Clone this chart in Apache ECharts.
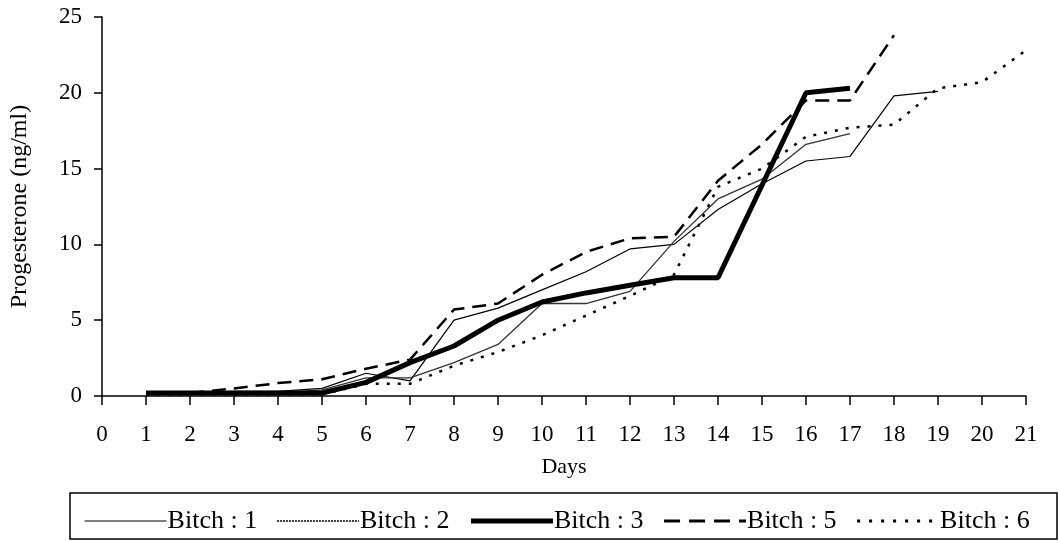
<!DOCTYPE html>
<html>
<head>
<meta charset="utf-8">
<script src="https://cdn.jsdelivr.net/npm/echarts@6/dist/echarts.min.js"></script>
<style>
html,body{margin:0;padding:0;background:#fff;}
#chart{width:1059px;height:541px;}
</style>
</head>
<body>
<div id="chart"></div>
<script>
// ---- data ----
var seriesNames = ['Bitch : 1', 'Bitch : 2', 'Bitch : 3', 'Bitch : 5', 'Bitch : 6'];
var days1 = [1,2,3,4,5,6,7,8,9,10,11,12,13,14,15,16,17,18,19];
var bitch1 = [0.2,0.2,0.3,0.3,0.5,1.5,1.0,5.0,5.8,7.0,8.2,9.7,10.0,12.3,14.0,15.5,15.8,19.8,20.1];
var days2 = [1,2,3,4,5,6,7,8,9,10,11,12,13,14,15,16,17];
var bitch2 = [0.1,0.1,0.2,0.2,0.4,1.2,1.2,2.2,3.4,6.1,6.1,6.9,10.2,13.0,14.3,16.6,17.3];
var days3 = [1,2,3,4,5,6,7,8,9,10,11,12,13,14,15,16,17];
var bitch3 = [0.2,0.2,0.2,0.2,0.2,0.9,2.2,3.3,5.0,6.2,6.8,7.3,7.8,7.8,13.9,20.0,20.3];
var days5 = [1,2,3,4,5,6,7,8,9,10,11,12,13,14,15,16,17,18];
var bitch5 = [0.2,0.2,0.5,0.85,1.1,1.8,2.4,5.7,6.1,8.0,9.5,10.4,10.5,14.2,16.6,19.5,19.5,23.8];
var days6 = [1,2,3,4,5,6,7,8,9,10,11,12,13,14,15,16,17,18,19,20,21];
var bitch6 = [0.1,0.1,0.1,0.1,0.1,0.8,0.8,2.0,2.9,4.0,5.3,6.6,8.0,13.8,15.0,17.1,17.7,17.9,20.3,20.7,22.8];
var xTicks = [0,21,1];
var yTicks = [0,25,5];

function pairs(xs, ys){ return xs.map(function(x,i){ return [x, ys[i]]; }); }

var FONT = '"Liberation Serif", "DejaVu Serif", serif';
var chart = echarts.init(document.getElementById('chart'), null, {renderer:'canvas'});

var styles = [
  {width:1.2, type:'solid', color:'#000'},
  {width:1.3, type:'solid', color:'#333'},
  {width:5, type:'solid', color:'#000'},
  {width:2.5, type:[14,8], color:'#000'},
  {width:2.5, type:[3,8], color:'#000'}
];
var legendStyles = [
  {width:1.2, type:'solid'},
  {width:1.6, type:[2,1]},
  {width:5, type:'solid'},
  {width:3, type:[16,9]},
  {width:3, type:[3,9]}
];
var datasets = [pairs(days1,bitch1), pairs(days2,bitch2), pairs(days3,bitch3), pairs(days5,bitch5), pairs(days6,bitch6)];

var series = seriesNames.map(function(n,i){
  return {
    name:n, type:'line', data:datasets[i], showSymbol:false, symbol:'none',
    lineStyle:{width:styles[i].width, type:styles[i].type, color:styles[i].color},
    itemStyle:{color:styles[i].color},
    animation:false, z: i===2 ? 3 : 2
  };
});

chart.setOption({
  backgroundColor:'#fff',
  animation:false,
  grid:{left:98, right:33, top:17, bottom:145, containLabel:false},
  xAxis:{
    type:'value', min:xTicks[0], max:xTicks[1], interval:xTicks[2],
    name:'Days', nameLocation:'middle', nameGap:60,
    nameTextStyle:{fontFamily:FONT, fontSize:22, color:'#000'},
    axisLine:{lineStyle:{color:'#000', width:1.5}},
    axisTick:{show:true, length:9, lineStyle:{color:'#000', width:1.5}},
    axisLabel:{fontFamily:FONT, fontSize:23, color:'#000', margin:27},
    splitLine:{show:false}
  },
  yAxis:{
    type:'value', min:yTicks[0], max:yTicks[1], interval:yTicks[2],
    name:'Progesterone (ng/ml)', nameLocation:'middle', nameGap:70, nameRotate:90,
    nameTextStyle:{fontFamily:FONT, fontSize:24, color:'#000'},
    axisLine:{show:true, lineStyle:{color:'#000', width:1.5}},
    axisTick:{show:true, length:8, lineStyle:{color:'#000', width:1.5}},
    axisLabel:{fontFamily:FONT, fontSize:23, color:'#000', margin:20},
    splitLine:{show:false}
  },
  legend:{
    left:79, top:503, itemWidth:82, itemHeight:14, itemGap:19,
    data:seriesNames.map(function(n,i){
      return {name:n, itemStyle:{opacity:0}, lineStyle:{width:legendStyles[i].width, type:legendStyles[i].type, color:'#000'}};
    }),
    itemStyle:{opacity:0},
    textStyle:{fontFamily:FONT, fontSize:26, color:'#000', padding:[0,0,0,-4]},
    selectedMode:false
  },
  graphic:[{
    type:'rect', shape:{x:70, y:493, width:987, height:46},
    style:{fill:'none', stroke:'#000', lineWidth:1.5}, silent:true, z:-1
  }],
  series:series
});
</script>
</body>
</html>
